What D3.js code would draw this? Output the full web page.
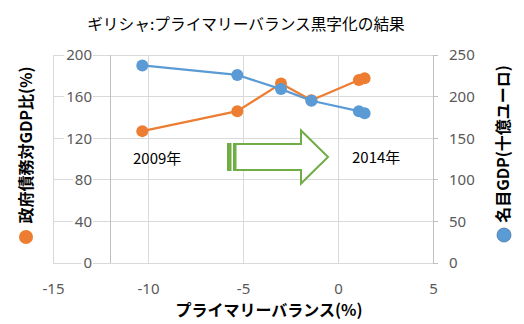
<!DOCTYPE html>
<html lang="ja">
<head>
<meta charset="utf-8">
<script src="https://cdn.jsdelivr.net/npm/d3@7"></script>
<style>
  html, body { margin: 0; padding: 0; background: #fff; }
  svg { display: block; }
  .jp { font-family: "Noto Sans CJK JP", "Noto Sans", sans-serif; }
  .num { font-family: "Noto Sans", "Open Sans", sans-serif; }
</style>
</head>
<body>
<svg id="chart" width="524" height="324"></svg>
<script>
// Greece: primary balance vs. debt ratio and nominal GDP, 2009–2014
const years = [2009, 2010, 2011, 2012, 2013, 2014];
const primaryBalance = [-10.3, -5.3, -3.0, -1.4, 1.1, 1.4];   // % of GDP
const debtRatio = [126.8, 146.0, 172.5, 156.5, 176.0, 177.7];   // government debt, % of GDP
const nominalGDP = [237.4, 226.0, 209.0, 195.0, 182.5, 180.0];  // billion euro

const xTicks = [-15, -10, -5, 0, 5];
const leftTicks = [0, 40, 80, 120, 160, 200];
const rightTicks = [0, 50, 100, 150, 200, 250];
const yAxisCross = -12;

const chartTitle = "ギリシャ:プライマリーバランス黒字化の結果";
const xTitle = "プライマリーバランス(%)";
const leftTitle = "政府債務対GDP比(%)";
const rightTitle = "名目GDP(十億ユーロ)";
const startLabel = years[0] + "年";
const endLabel = years[years.length - 1] + "年";

const ORANGE = "#ED7D31", BLUE = "#5B9BD5", GREEN = "#70AD47";
const GRID = "#D9D9D9", AXIS = "#BFBFBF", TICK_TEXT = "#595959";

const svg = d3.select("#chart");

const x = d3.scaleLinear().domain([-15, 5]).range([53, 433]);
const yL = d3.scaleLinear().domain([0, 200]).range([263, 55]);
const yR = d3.scaleLinear().domain([0, 250]).range([263, 55]);

// gridlines
const grid = svg.append("g");
grid.selectAll("line.h").data(leftTicks).join("line")
  .attr("x1", x(-15)).attr("x2", x(5))
  .attr("y1", d => yL(d)).attr("y2", d => yL(d))
  .attr("stroke", GRID).attr("stroke-width", 1).attr("shape-rendering", "crispEdges");
grid.selectAll("line.v").data(xTicks).join("line")
  .attr("x1", d => x(d)).attr("x2", d => x(d))
  .attr("y1", yL(0)).attr("y2", yL(200))
  .attr("stroke", GRID).attr("stroke-width", 1).attr("shape-rendering", "crispEdges");

// vertical value axis crossing the category axis at -12
svg.append("line")
  .attr("x1", x(yAxisCross)).attr("x2", x(yAxisCross))
  .attr("y1", yL(0)).attr("y2", yL(200))
  .attr("stroke", AXIS).attr("shape-rendering", "crispEdges");

// secondary axis line with outside ticks
svg.append("line")
  .attr("x1", x(5)).attr("x2", x(5))
  .attr("y1", yR(0)).attr("y2", yR(250))
  .attr("stroke", AXIS).attr("shape-rendering", "crispEdges");
svg.selectAll("line.rt").data(rightTicks).join("line")
  .attr("x1", x(5)).attr("x2", x(5) + 5)
  .attr("y1", d => yR(d)).attr("y2", d => yR(d))
  .attr("stroke", AXIS).attr("shape-rendering", "crispEdges");

// left tick labels (drawn over the plot area with a white backing)
const leftAxis = svg.append("g").attr("transform", "translate(92,0)")
  .call(d3.axisLeft(yL).tickValues(leftTicks).tickSize(0).tickPadding(0));
leftAxis.select(".domain").remove();
leftAxis.selectAll("text").attr("class", "num").attr("font-size", 15).attr("fill", TICK_TEXT);
leftAxis.selectAll(".tick").each(function () {
  const t = d3.select(this).select("text");
  const b = t.node().getBBox();
  d3.select(this).insert("rect", "text")
    .attr("x", b.x - 2).attr("y", b.y).attr("width", b.width + 3).attr("height", b.height)
    .attr("fill", "#fff");
});

const rightAxis = svg.append("g").attr("transform", "translate(449,0)")
  .call(d3.axisRight(yR).tickValues(rightTicks).tickSize(0).tickPadding(0));
rightAxis.select(".domain").remove();
rightAxis.selectAll("text").attr("class", "num").attr("font-size", 15).attr("fill", TICK_TEXT);

const bottomAxis = svg.append("g").attr("transform", "translate(0,263)")
  .call(d3.axisBottom(x).tickValues(xTicks).tickSize(0).tickPadding(20).tickFormat(d3.format("d")));
bottomAxis.select(".domain").remove();
bottomAxis.selectAll("text").attr("class", "num").attr("font-size", 15).attr("fill", TICK_TEXT)
  .text(d => (d < 0 ? "-" + Math.abs(d) : d));

// arrow from the first to the last year
const arrow = svg.append("g");
const ax0 = 227, ax1 = 236, axHead = 301, axTip = 328;
const yMid = 157, bodyH = 13, headH = 26.5;
arrow.append("path")
  .attr("d", `M${ax1 - 0.5},${yMid - bodyH} L${axHead},${yMid - bodyH} L${axHead},${yMid - headH} L${axTip},${yMid} L${axHead},${yMid + headH} L${axHead},${yMid + bodyH} L${ax1 - 0.5},${yMid + bodyH} Z`)
  .attr("fill", "#fff").attr("stroke", GREEN).attr("stroke-width", 2).attr("stroke-linejoin", "miter");
arrow.append("rect").attr("x", ax0).attr("y", yMid - bodyH - 1).attr("width", 4.5).attr("height", bodyH * 2 + 2).attr("fill", GREEN);
arrow.append("rect").attr("x", ax0 + 6).attr("y", yMid - bodyH - 1).attr("width", 2.5).attr("height", bodyH * 2 + 2).attr("fill", GREEN);

svg.append("text").attr("class", "jp").attr("x", 133).attr("y", 159).attr("dy", "0.35em")
  .attr("font-size", 15).attr("fill", "#000").text(startLabel);
svg.append("text").attr("class", "jp").attr("x", 352).attr("y", 158).attr("dy", "0.35em")
  .attr("font-size", 15).attr("fill", "#000").text(endLabel);

// series
const debtPts = primaryBalance.map((p, i) => [x(p), yL(debtRatio[i])]);
const gdpPts = primaryBalance.map((p, i) => [x(p), yR(nominalGDP[i])]);
const line = d3.line();

function drawSeries(pts, color) {
  const g = svg.append("g");
  g.append("path").attr("d", line(pts)).attr("fill", "none")
    .attr("stroke", color).attr("stroke-width", 2.25).attr("stroke-linejoin", "round");
  g.selectAll("circle").data(pts).join("circle")
    .attr("cx", d => d[0]).attr("cy", d => d[1]).attr("r", 6)
    .attr("fill", color);
}
drawSeries(debtPts, ORANGE);
drawSeries(gdpPts, BLUE);

// titles
svg.append("text").attr("class", "jp").attr("x", 246).attr("y", 25).attr("dy", "0.35em")
  .attr("text-anchor", "middle").attr("font-size", 15.7).attr("fill", "#000").text(chartTitle);
svg.append("text").attr("class", "jp").attr("x", 269).attr("y", 310).attr("dy", "0.35em")
  .attr("text-anchor", "middle").attr("font-size", 16).attr("font-weight", "bold").attr("fill", "#000").text(xTitle);

svg.append("circle").attr("cx", 26).attr("cy", 237).attr("r", 7).attr("fill", ORANGE);
svg.append("text").attr("class", "jp")
  .attr("transform", "translate(26,145) rotate(-90)").attr("dy", "0.35em")
  .attr("text-anchor", "middle").attr("font-size", 16).attr("font-weight", "bold").attr("fill", "#000").text(leftTitle);

svg.append("circle").attr("cx", 504).attr("cy", 235).attr("r", 7).attr("fill", BLUE)
  .attr("stroke", "#41719C").attr("stroke-width", 0.75);
svg.append("text").attr("class", "jp")
  .attr("transform", "translate(503,144) rotate(-90)").attr("dy", "0.35em")
  .attr("text-anchor", "middle").attr("font-size", 16).attr("font-weight", "bold").attr("fill", "#000").text(rightTitle);
</script>
</body>
</html>
